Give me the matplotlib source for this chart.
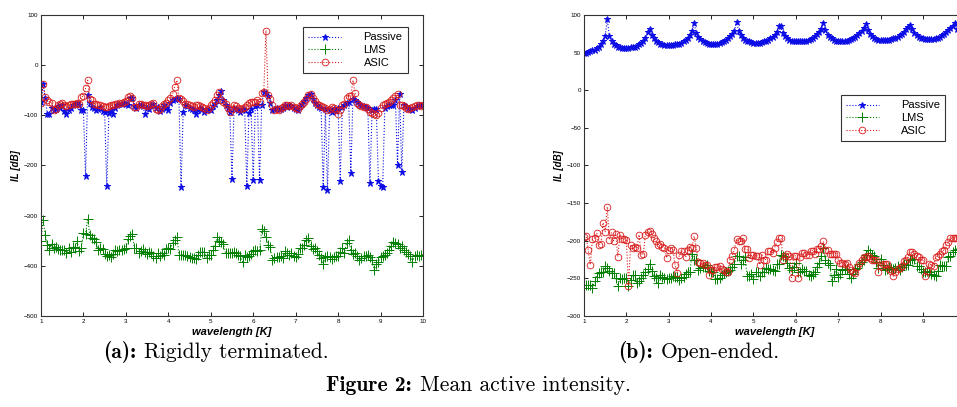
import matplotlib
matplotlib.use("Agg")
import matplotlib.pyplot as plt
import numpy as np

plt.rcParams['font.family'] = ['Liberation Sans', 'DejaVu Sans']

# wavelength grid shared by all series (1 .. 10 K, step 0.05)
wavelength = np.linspace(1, 10, 181)

# ---- (a) rigidly terminated ----
passive_a = [
    -73, -38, -65, -97, -98, -85, -90, -88, -82, -85, -80, -92, -98, -89, -85, -80, -78, -76, -80, -89,
    -89, -220, -60, -75, -83, -85, -90, -88, -84, -92, -93, -240, -95, -90, -97, -85, -80, -78, -77, -75,
    -78, -80, -66, -65, -82, -85, -80, -80, -82, -98, -85, -88, -80, -77, -85, -83, -92, -88, -80, -85,
    -90, -75, -69, -68, -65, -67, -243, -93, -80, -82, -85, -88, -90, -97, -90, -85, -88, -93, -90, -88,
    -90, -82, -77, -70, -60, -52, -70, -80, -85, -93, -226, -85, -88, -90, -93, -88, -90, -240, -95, -88,
    -228, -82, -80, -228, -80, -53, -55, -62, -75, -90, -88, -85, -88, -87, -85, -80, -83, -80, -82, -85,
    -88, -90, -82, -78, -72, -65, -60, -57, -68, -75, -80, -83, -85, -242, -88, -249, -90, -93, -88, -92,
    -85, -230, -83, -80, -75, -73, -215, -67, -70, -73, -78, -80, -82, -83, -85, -235, -90, -87, -88, -231,
    -240, -243, -85, -82, -80, -80, -80, -70, -199, -57, -213, -80, -82, -85, -88, -90, -85, -82, -80, -80,
    -80]
lms_a = [
    -350, -308, -338, -359, -369, -357, -364, -362, -366, -369, -368, -369, -374, -364, -372, -362, -364, -351, -370, -364,
    -335, -336, -306, -338, -344, -346, -353, -369, -364, -366, -377, -380, -378, -383, -376, -369, -370, -368, -369, -366,
    -364, -346, -340, -336, -365, -364, -374, -370, -367, -372, -377, -372, -374, -380, -385, -375, -380, -374, -378, -366,
    -364, -366, -355, -348, -342, -378, -378, -378, -379, -380, -383, -385, -385, -387, -378, -373, -373, -372, -385, -378,
    -378, -368, -361, -343, -350, -353, -356, -375, -375, -374, -374, -373, -375, -378, -380, -392, -378, -382, -380, -376,
    -370, -369, -371, -369, -327, -330, -342, -359, -362, -388, -385, -383, -383, -380, -384, -371, -375, -378, -374, -380,
    -383, -376, -364, -365, -358, -349, -344, -360, -366, -364, -371, -378, -385, -397, -383, -381, -382, -386, -383, -381,
    -380, -372, -364, -374, -354, -349, -368, -377, -374, -380, -389, -384, -381, -380, -378, -382, -388, -409, -396, -392,
    -382, -380, -378, -375, -369, -360, -352, -355, -357, -364, -360, -369, -372, -376, -380, -392, -381, -378, -380, -378,
    -378]
asic_a = [
    -75, -37, -63, -70, -73, -75, -90, -88, -80, -78, -75, -80, -82, -80, -78, -77, -78, -76, -77, -63,
    -62, -46, -30, -68, -70, -77, -78, -80, -80, -82, -83, -84, -82, -80, -80, -78, -77, -76, -75, -73,
    -71, -63, -62, -65, -83, -84, -78, -78, -79, -80, -82, -80, -77, -75, -88, -90, -87, -82, -78, -76,
    -70, -65, -57, -43, -30, -65, -68, -72, -77, -78, -80, -82, -83, -80, -80, -82, -83, -86, -90, -85,
    -80, -75, -69, -60, -53, -70, -73, -78, -85, -93, -88, -80, -82, -85, -87, -85, -83, -80, -76, -73,
    -74, -73, -70, -73, -55, -53, 69, -60, -67, -80, -90, -88, -90, -86, -84, -80, -80, -82, -80, -83,
    -86, -87, -82, -78, -73, -68, -60, -57, -65, -72, -77, -80, -82, -83, -86, -90, -88, -83, -85, -90,
    -97, -90, -80, -78, -65, -62, -62, -30, -55, -75, -80, -82, -83, -84, -88, -93, -95, -97, -100, -95,
    -85, -80, -78, -75, -73, -70, -65, -62, -58, -80, -80, -82, -85, -88, -86, -83, -82, -80, -80, -81,
    -80]

# ---- (b) open-ended ----
passive_b = [
    50, 50, 51, 52, 53, 54, 56, 58, 61, 66, 72, 94, 72, 66, 62, 60, 58, 57, 56, 56,
    56, 56, 57, 57, 58, 59, 61, 63, 66, 70, 78, 81, 74, 69, 66, 64, 62, 61, 60, 60,
    60, 60, 60, 61, 61, 62, 63, 65, 67, 70, 74, 79, 89, 76, 71, 68, 66, 64, 63, 62,
    62, 62, 62, 62, 63, 64, 65, 67, 69, 72, 75, 79, 91, 79, 73, 70, 67, 66, 65, 64,
    63, 63, 63, 63, 64, 65, 66, 67, 69, 71, 74, 78, 85, 85, 76, 72, 69, 67, 66, 65,
    65, 65, 65, 65, 65, 66, 67, 68, 70, 72, 75, 78, 82, 90, 80, 74, 71, 69, 67, 66,
    66, 66, 66, 66, 66, 67, 68, 69, 71, 73, 76, 79, 83, 88, 80, 75, 72, 70, 68, 67,
    67, 67, 67, 67, 67, 68, 69, 70, 71, 73, 75, 78, 81, 84, 87, 81, 76, 73, 71, 70,
    69, 68, 68, 68, 68, 68, 69, 70, 71, 73, 75, 77, 80, 83, 86, 89, 82, 77, 74, 72,
    71]
lms_b = [
    -263, -259, -259, -259, -263, -254, -248, -243, -242, -242, -234, -236, -240, -243, -243, -250, -260, -249, -251, -250,
    -249, -260, -252, -245, -246, -256, -254, -250, -245, -242, -238, -231, -240, -247, -250, -256, -245, -248, -250, -251,
    -249, -249, -247, -248, -248, -252, -250, -248, -244, -241, -241, -217, -226, -226, -239, -236, -235, -235, -232, -240,
    -241, -241, -251, -251, -250, -246, -243, -241, -240, -239, -235, -231, -220, -220, -231, -226, -222, -247, -247, -244,
    -251, -242, -242, -247, -241, -241, -236, -237, -238, -239, -240, -231, -231, -219, -220, -222, -230, -236, -239, -235,
    -230, -241, -241, -238, -240, -240, -245, -247, -244, -241, -235, -230, -220, -210, -226, -229, -232, -254, -246, -238,
    -248, -244, -239, -238, -238, -244, -250, -244, -238, -236, -231, -228, -225, -219, -212, -216, -219, -220, -228, -236,
    -224, -232, -239, -237, -235, -236, -238, -236, -234, -239, -235, -231, -232, -232, -225, -224, -224, -234, -234, -238,
    -242, -241, -240, -242, -244, -246, -247, -240, -232, -233, -234, -234, -222, -220, -215, -212, -212, -211, -210, -210,
    -210]
asic_b = [
    -195, -194, -212, -232, -198, -197, -190, -205, -204, -176, -188, -155, -199, -189, -200, -191, -221, -192, -198, -198,
    -199, -260, -205, -210, -208, -210, -192, -219, -217, -192, -189, -187, -191, -197, -201, -205, -204, -208, -209, -223,
    -212, -210, -212, -232, -243, -219, -214, -214, -222, -212, -208, -209, -194, -209, -228, -230, -230, -232, -232, -245,
    -239, -239, -235, -235, -234, -238, -239, -242, -242, -225, -220, -212, -198, -201, -201, -197, -211, -211, -223, -219,
    -219, -220, -220, -232, -219, -225, -225, -214, -214, -216, -209, -202, -197, -197, -225, -220, -217, -220, -249, -220,
    -220, -249, -222, -216, -216, -219, -219, -213, -213, -217, -211, -211, -207, -201, -212, -212, -217, -217, -217, -217,
    -225, -229, -229, -231, -229, -235, -239, -241, -243, -235, -229, -225, -222, -221, -220, -223, -225, -225, -225, -241,
    -234, -231, -231, -231, -238, -240, -247, -242, -238, -236, -234, -227, -225, -222, -215, -215, -217, -220, -222, -225,
    -225, -247, -240, -231, -232, -234, -222, -220, -217, -214, -212, -205, -202, -197, -196, -197, -196, -195, -195, -196,
    -196]

blue = (0.05, 0.05, 0.9)
green = (0.0, 0.5, 0.0)
red = (0.85, 0.1, 0.1)


def draw_panel(ax, passive, lms, asic, xticks, yticks, legend_anchor):
    ax.plot(wavelength, passive, ':', color=blue, lw=0.8, marker='*', ms=4.5,
            mew=0.7, label='Passive')
    ax.plot(wavelength, lms, ':', color=green, lw=0.8, marker='+', ms=6.5,
            mew=0.7, label='LMS')
    ax.plot(wavelength, asic, ':', color=red, lw=0.8, marker='o', ms=4.8,
            mfc='none', mew=0.6, label='ASIC')
    ax.set_xlim(1, 10)
    ax.set_ylim(yticks[0], yticks[-1])
    ax.set_xticks(xticks)
    ax.set_yticks(yticks)
    ax.tick_params(direction='in', top=True, right=True, labelsize=4.5,
                   length=3, width=0.6, pad=2)
    for s in ax.spines.values():
        s.set_linewidth(0.8)
        s.set_color('#333333')
    ax.set_xlabel('wavelength [K]', fontsize=8, fontweight='bold',
                  fontstyle='italic', labelpad=2)
    ax.set_ylabel('IL [dB]', fontsize=7, fontweight='bold',
                  fontstyle='italic', labelpad=2)
    leg = ax.legend(loc='upper right', bbox_to_anchor=legend_anchor,
                    fontsize=8, handlelength=3, handletextpad=2.0,
                    borderpad=0.45, labelspacing=0.25, fancybox=False,
                    framealpha=1, edgecolor='#333333')
    leg.get_frame().set_linewidth(0.8)


fig = plt.figure(figsize=(9.57, 4.07), dpi=100)

ax1 = fig.add_axes([0.0428, 0.2236, 0.3992, 0.7396])
draw_panel(ax1, passive_a, lms_a, asic_a, list(range(1, 11)),
           list(range(-500, 101, 100)), (0.974, 0.977))

ax2 = fig.add_axes([0.6102, 0.2236, 0.3985, 0.7396])
draw_panel(ax2, passive_b, lms_b, asic_b, list(range(1, 10)),
           list(range(-300, 101, 50)), (0.962, 0.751))

# captions: bold label + roman text, Computer Modern
W = 957.0
FS = 15.5


def caption(xj, y, bold, rest):
    fig.text(xj / W, y, bold, fontsize=FS, family='cmb10', ha='right', va='center')
    fig.text((xj + 8) / W, y, rest, fontsize=FS, family='cmr10', ha='left', va='center')


caption(136, 0.135, '(a):', 'Rigidly terminated.')
caption(653, 0.135, '(b):', 'Open-ended.')
caption(412, 0.054, 'Figure 2:', 'Mean active intensity.')

fig.savefig('out.png', dpi=100, facecolor='white')
